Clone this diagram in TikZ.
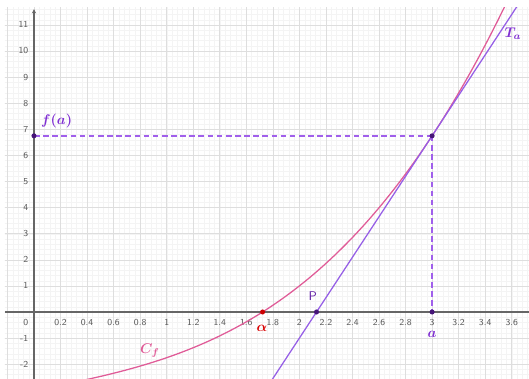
\documentclass[tikz,border=0pt]{standalone}
\usepackage{amsmath,amssymb,bm}
\usetikzlibrary{arrows.meta}
\definecolor{courbe}{RGB}{224,92,152}
\definecolor{tang}{RGB}{150,95,230}
\definecolor{tirets}{RGB}{160,95,235}
\definecolor{violet}{RGB}{128,48,210}
\definecolor{pt}{RGB}{70,20,120}
\definecolor{grille}{RGB}{222,222,222}
\definecolor{grillefine}{RGB}{244,244,244}

\begin{document}
\begin{tikzpicture}[x=3.3175cm,y=0.6525cm,
  declare function={ f(\x)=\x^3/4+\x-3; t(\x)=7.75*(\x-3)+6.75;
                 },
  point/.style={circle,fill=pt,inner sep=0pt,minimum size=3.6pt},
  tiret/.style={tirets,line width=1pt,dash pattern=on 4pt off 2.5pt},
  lbl/.style={font=\sffamily\fontsize{6.5}{7}\selectfont,text=black!65,inner sep=1pt}]

    \useasboundingbox (-0.2562,-2.567) rectangle (3.7302,11.954);
\begin{scope}
    \clip (-0.22,-2.567) rectangle (3.7302,11.65);
    \draw[grillefine,very thin,xstep=0.04,ystep=0.2] (-0.4,-3) grid (3.8,12);
    \draw[grille,thin,xstep=0.2,ystep=1] (-0.4,-3) grid (3.8,12);
\end{scope}

    \draw[black!60,line width=0.8pt] (-0.22,0) -- (3.7302,0);
    \draw[black!60,line width=0.8pt,-{Stealth[length=3pt,width=3pt]}] (0,-2.567) -- (0,11.6);

\foreach \xs [count=\i] in {0.2,0.4,0.6,0.8,1,1.2,1.4,1.6,1.8,2,2.2,2.4,2.6,2.8,3,3.2,3.4,3.6}
    \node[lbl] (tx\i) at (\i/5,-0.4) {\xs};
\foreach \j in {-2,-1,1,2,3,4,5,6,7,8,9,10,11}
    \node[lbl,anchor=east] (ty\j) at (-0.03,\j) {\j};
    \node[lbl,anchor=east] (t0) at (-0.03,-0.4) {0};

\begin{scope}
    \clip (-0.22,-2.567) rectangle (3.7302,11.65);
    \draw[-,color=courbe,smooth,domain=0.3:3.6,samples=90,line width=0.9pt] plot(\x,{f(\x)});
    \draw[-,color=tang,domain=1.7:3.72,line width=0.9pt] plot(\x,{t(\x)});
\end{scope}

    \coordinate (M) at (3,6.75);
    \coordinate (Fa) at (0,6.75);
    \coordinate (A) at (3,0);
    \draw[tiret] (Fa) -- (M);
    \draw[tiret] (M) -- (A);
    \node[point] (fa) at (Fa) {};
    \node[point] (m) at (M) {};
    \node[point] (a) at (A) {};
    \node[point] (p) at (2.129,0) {};
    \node[point,fill=red!80!black] (alpha) at (1.7225,0) {};

    \node[text=violet] (lfa) at (0.17,7.3) {$\boldsymbol{f(a)}$};
    \node[text=violet] (lta) at (3.61,10.65) {$\boldsymbol{T_a}$};
    \node[text=courbe] (lcf) at (0.874,-1.49) {$\boldsymbol{C_f}$};
    \node[text=red!85!black] (lalpha) at (1.718,-0.62) {$\boldsymbol{\alpha}$};
    \node[text=violet!80!black,font=\sffamily\small] (lp) at (2.10,0.6) {P};
    \node[text=violet,inner sep=1pt] (la) at (3,-0.85) {$\boldsymbol{a}$};

\end{tikzpicture}
\end{document}
